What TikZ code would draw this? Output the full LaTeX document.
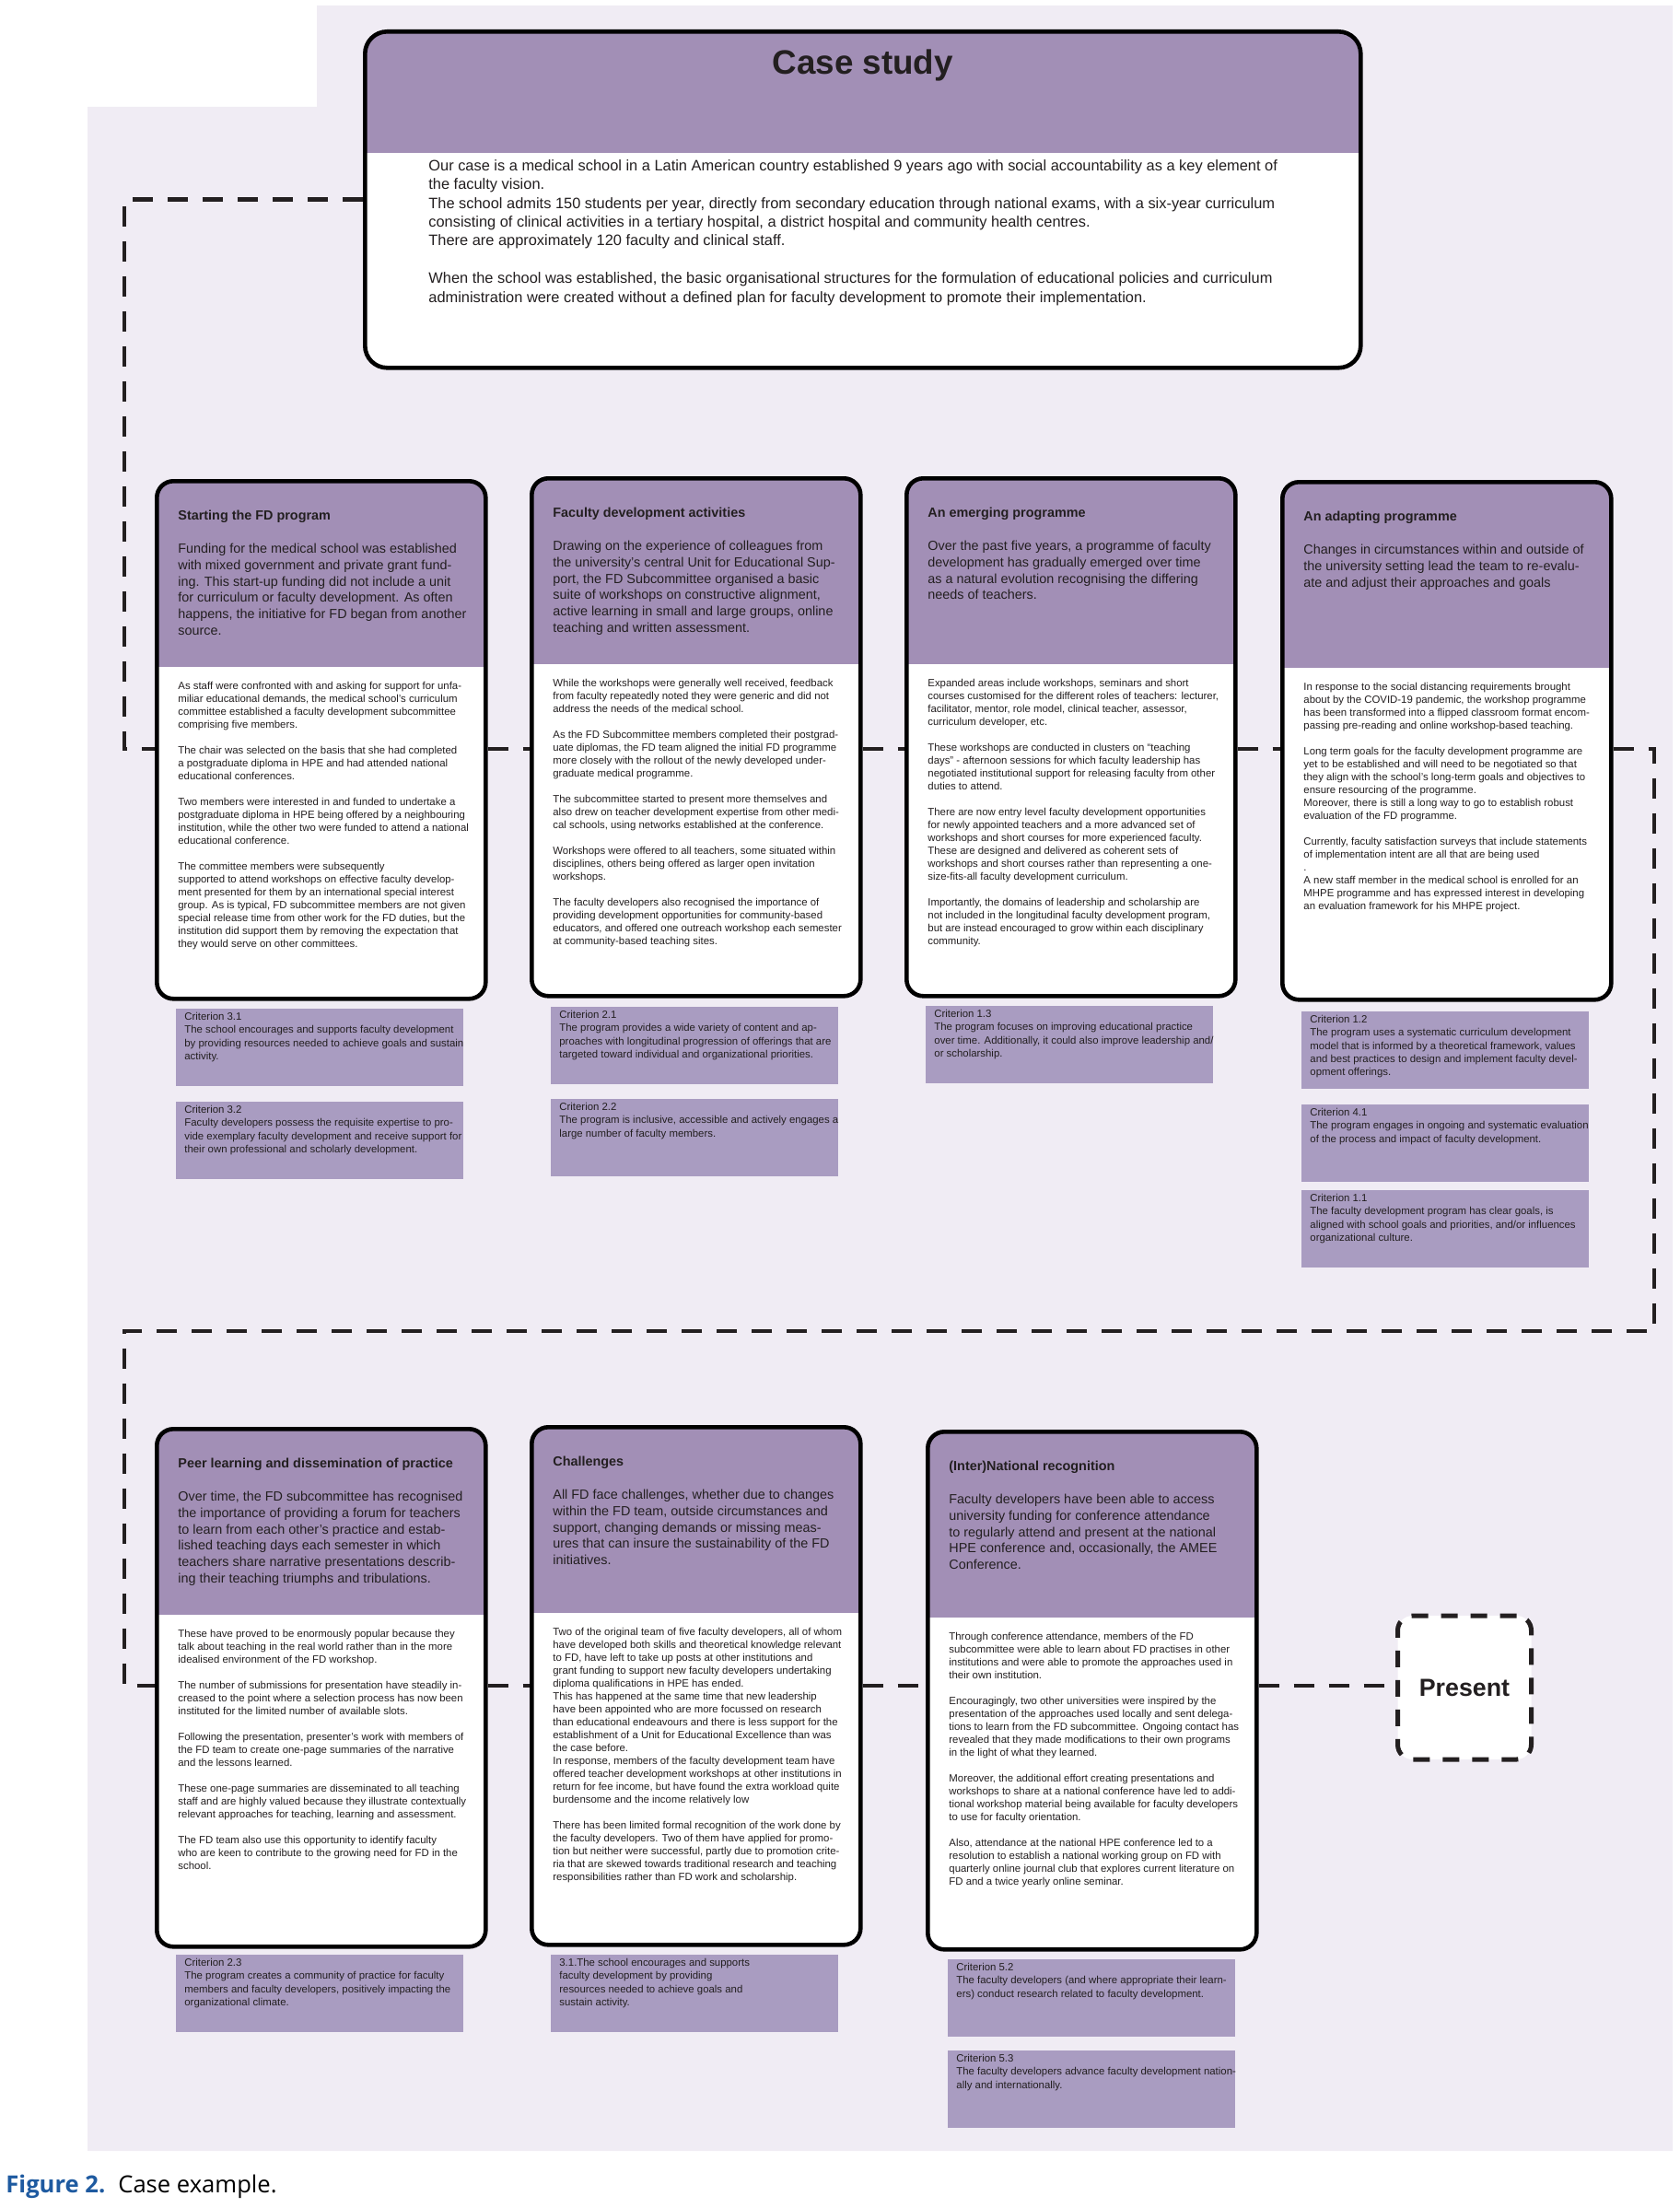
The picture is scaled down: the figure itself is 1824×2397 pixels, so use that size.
\documentclass[tikz,border=0pt]{standalone}
\usepackage{xcolor}
\usepackage{fontspec}
\setmainfont{Liberation Sans}
\newfontfamily\capfont{Open Sans}
\usepackage{tikz}
\usetikzlibrary{positioning}
\definecolor{mydark}{RGB}{35,31,32}
\definecolor{hdrlav}{RGB}{162,143,182}
\definecolor{critlav}{RGB}{169,156,193}
\definecolor{bglav}{RGB}{240,236,244}
\definecolor{capblue}{RGB}{30,90,160}
\newcommand{\bgap}{\\[7pt]}
\newcommand{\cgap}{\\[10.2pt]}
\tikzset{
  panel/.style={rectangle, draw=black, fill=white, line width=2.3pt,
    rounded corners=9pt, inner sep=0pt,
    path picture={\fill[hdrlav, sharp corners] (path picture bounding box.north west)
      rectangle ([yshift=-#1]path picture bounding box.north east);}},
  card/.style={panel=101pt, minimum width=178.5pt, minimum height=281pt},
  casetext/.style={inner sep=0pt, align=left, text=mydark,
    font=\fontsize{8.2pt}{10.2pt}\selectfont},
  cardtitle/.style={inner sep=0pt, align=left, text=mydark,
    font=\bfseries\fontsize{7.2pt}{8.6pt}\selectfont},
  cardlead/.style={inner sep=0pt, align=left, text=mydark,
    font=\fontsize{7.2pt}{8.85pt}\selectfont},
  cardbody/.style={inner sep=0pt, align=left, text=mydark,
    font=\fontsize{5.7pt}{7pt}\selectfont},
  critbox/.style={rectangle, fill=critlav, minimum width=156pt,
    minimum height=42pt, inner sep=0pt},
  crittext/.style={inner sep=0pt, align=left, text=mydark,
    font=\fontsize{5.7pt}{7.1pt}\selectfont},
  flow/.style={line width=2.4pt, color=mydark, dash pattern=on 11pt off 8pt},
  presentbox/.style={rectangle, draw=mydark, fill=white, line width=2.5pt,
    dash pattern=on 9pt off 7pt, rounded corners=8pt,
    minimum width=72.5pt, minimum height=78pt, text=mydark,
    font=\bfseries\fontsize{13.4pt}{16pt}\selectfont}
}

\begin{document}
\begin{tikzpicture}[x=0.5pt, y=-0.5pt]
  \useasboundingbox (0,0) rectangle (1824,2397);

  % Background
  \fill[bglav] (95,116) -- (344,116) -- (344,6) -- (1816,6)
    -- (1816,2335) -- (95,2335) -- cycle;

  % Case study box
  \node[panel=66pt, minimum width=540.5pt, minimum height=182.5pt,
    rounded corners=12pt, anchor=north west] (case) at (394,32) {};
  \node[inner sep=0pt, text=mydark, font=\bfseries\fontsize{18.4pt}{22pt}\selectfont,
    below=10.7pt of case.north] (casetitle) {Case study};
  \node[casetext, below right=70.5pt and 35.5pt of case.north west] (casebody) {%
    Our case is a medical school in a Latin American country established 9 years ago with social accountability as a key element of\\
    the faculty vision.\\
    The school admits 150 students per year, directly from secondary education through national exams, with a six-year curriculum\\
    consisting of clinical activities in a tertiary hospital, a district hospital and community health centres.\\
    There are approximately 120 faculty and clinical staff.\cgap
    When the school was established, the basic organisational structures for the formulation of educational policies and curriculum\\
    administration were created without a defined plan for faculty development to promote their implementation.};

  % Row 1 cards
  \node[card, anchor=north west] (start) at (168,520) {};
  \node[cardtitle, below right=17pt and 12.5pt of start.north west] {Starting the FD program};
  \node[cardlead, below right=35pt and 12.5pt of start.north west] {%
    Funding for the medical school was established\\
    with mixed government and private grant fund-\\
    ing. This start-up funding did not include a unit\\
    for curriculum or faculty development. As often\\
    happens, the initiative for FD began from another\\
    source.};
  \node[cardbody, below right=110pt and 12.5pt of start.north west] {%
    As staff were confronted with and asking for support for unfa-\\
    miliar educational demands, the medical school's curriculum\\
    committee established a faculty development subcommittee\\
    comprising five members.\bgap
    The chair was selected on the basis that she had completed\\
    a postgraduate diploma in HPE and had attended national\\
    educational conferences.\bgap
    Two members were interested in and funded to undertake a\\
    postgraduate diploma in HPE being offered by a neighbouring\\
    institution, while the other two were funded to attend a national\\
    educational conference.\bgap
    The committee members were subsequently\\
    supported to attend workshops on effective faculty develop-\\
    ment presented for them by an international special interest\\
    group. As is typical, FD subcommittee members are not given\\
    special release time from other work for the FD duties, but the\\
    institution did support them by removing the expectation that\\
    they would serve on other committees.};

  \node[card, anchor=north west] (activ) at (575,517) {};
  \node[cardtitle, below right=17pt and 12.5pt of activ.north west] {Faculty development activities};
  \node[cardlead, below right=35pt and 12.5pt of activ.north west] {%
    Drawing on the experience of colleagues from\\
    the university's central Unit for Educational Sup-\\
    port, the FD Subcommittee organised a basic\\
    suite of workshops on constructive alignment,\\
    active learning in small and large groups, online\\
    teaching and written assessment.};
  \node[cardbody, below right=110pt and 12.5pt of activ.north west] {%
    While the workshops were generally well received, feedback\\
    from faculty repeatedly noted they were generic and did not\\
    address the needs of the medical school.\bgap
    As the FD Subcommittee members completed their postgrad-\\
    uate diplomas, the FD team aligned the initial FD programme\\
    more closely with the rollout of the newly developed under-\\
    graduate medical programme.\bgap
    The subcommittee started to present more themselves and\\
    also drew on teacher development expertise from other medi-\\
    cal schools, using networks established at the conference.\bgap
    Workshops were offered to all teachers, some situated within\\
    disciplines, others being offered as larger open invitation\\
    workshops.\bgap
    The faculty developers also recognised the importance of\\
    providing development opportunities for community-based\\
    educators, and offered one outreach workshop each semester\\
    at community-based teaching sites.};

  \node[card, anchor=north west] (emerg) at (982,517) {};
  \node[cardtitle, below right=17pt and 12.5pt of emerg.north west] {An emerging programme};
  \node[cardlead, below right=35pt and 12.5pt of emerg.north west] {%
    Over the past five years, a programme of faculty\\
    development has gradually emerged over time\\
    as a natural evolution recognising the differing\\
    needs of teachers.};
  \node[cardbody, below right=110pt and 12.5pt of emerg.north west] {%
    Expanded areas include workshops, seminars and short\\
    courses customised for the different roles of teachers: lecturer,\\
    facilitator, mentor, role model, clinical teacher, assessor,\\
    curriculum developer, etc.\bgap
    These workshops are conducted in clusters on ``teaching\\
    days'' - afternoon sessions for which faculty leadership has\\
    negotiated institutional support for releasing faculty from other\\
    duties to attend.\bgap
    There are now entry level faculty development opportunities\\
    for newly appointed teachers and a more advanced set of\\
    workshops and short courses for more experienced faculty.\\
    These are designed and delivered as coherent sets of\\
    workshops and short courses rather than representing a one-\\
    size-fits-all faculty development curriculum.\bgap
    Importantly, the domains of leadership and scholarship are\\
    not included in the longitudinal faculty development program,\\
    but are instead encouraged to grow within each disciplinary\\
    community.};

  \node[card, anchor=north west] (adapt) at (1390,521) {};
  \node[cardtitle, below right=17pt and 12.5pt of adapt.north west] {An adapting programme};
  \node[cardlead, below right=35pt and 12.5pt of adapt.north west] {%
    Changes in circumstances within and outside of\\
    the university setting lead the team to re-evalu-\\
    ate and adjust their approaches and goals};
  \node[cardbody, below right=110pt and 12.5pt of adapt.north west] {%
    In response to the social distancing requirements brought\\
    about by the COVID-19 pandemic, the workshop programme\\
    has been transformed into a flipped classroom format encom-\\
    passing pre-reading and online workshop-based teaching.\bgap
    Long term goals for the faculty development programme are\\
    yet to be established and will need to be negotiated so that\\
    they align with the school's long-term goals and objectives to\\
    ensure resourcing of the programme.\\
    Moreover, there is still a long way to go to establish robust\\
    evaluation of the FD programme.\bgap
    Currently, faculty satisfaction surveys that include statements\\
    of implementation intent are all that are being used\\
    .\\
    A new staff member in the medical school is enrolled for an\\
    MHPE programme and has expressed interest in developing\\
    an evaluation framework for his MHPE project.};

  % Row 1 criteria
  \node[critbox, anchor=north west] (c31) at (191,1095) {};
  \node[crittext, below right=2pt and 4.5pt of c31.north west] {%
    Criterion 3.1\\
    The school encourages and supports faculty development\\
    by providing resources needed to achieve goals and sustain\\
    activity.};
  \node[critbox, anchor=north west] (c32) at (191,1196) {};
  \node[crittext, below right=2pt and 4.5pt of c32.north west] {%
    Criterion 3.2\\
    Faculty developers possess the requisite expertise to pro-\\
    vide exemplary faculty development and receive support for\\
    their own professional and scholarly development.};
  \node[critbox, anchor=north west] (c21) at (598,1093) {};
  \node[crittext, below right=2pt and 4.5pt of c21.north west] {%
    Criterion 2.1\\
    The program provides a wide variety of content and ap-\\
    proaches with longitudinal progression of offerings that are\\
    targeted toward individual and organizational priorities.};
  \node[critbox, anchor=north west] (c22) at (598,1193) {};
  \node[crittext, below right=2pt and 4.5pt of c22.north west] {%
    Criterion 2.2\\
    The program is inclusive, accessible and actively engages a\\
    large number of faculty members.};
  \node[critbox, anchor=north west] (c13) at (1005,1092) {};
  \node[crittext, below right=2pt and 4.5pt of c13.north west] {%
    Criterion 1.3\\
    The program focuses on improving educational practice\\
    over time. Additionally, it could also improve leadership and/\\
    or scholarship.};
  \node[critbox, anchor=north west] (c12) at (1413,1098) {};
  \node[crittext, below right=2pt and 4.5pt of c12.north west] {%
    Criterion 1.2\\
    The program uses a systematic curriculum development\\
    model that is informed by a theoretical framework, values\\
    and best practices to design and implement faculty devel-\\
    opment offerings.};
  \node[critbox, anchor=north west] (c41) at (1413,1199) {};
  \node[crittext, below right=2pt and 4.5pt of c41.north west] {%
    Criterion 4.1\\
    The program engages in ongoing and systematic evaluation\\
    of the process and impact of faculty development.};
  \node[critbox, anchor=north west] (c11) at (1413,1292) {};
  \node[crittext, below right=2pt and 4.5pt of c11.north west] {%
    Criterion 1.1\\
    The faculty development program has clear goals, is\\
    aligned with school goals and priorities, and/or influences\\
    organizational culture.};

  % Row 2 cards
  \node[card, anchor=north west] (peer) at (168,1549) {};
  \node[cardtitle, below right=17pt and 12.5pt of peer.north west] {Peer learning and dissemination of practice};
  \node[cardlead, below right=35pt and 12.5pt of peer.north west] {%
    Over time, the FD subcommittee has recognised\\
    the importance of providing a forum for teachers\\
    to learn from each other's practice and estab-\\
    lished teaching days each semester in which\\
    teachers share narrative presentations describ-\\
    ing their teaching triumphs and tribulations.};
  \node[cardbody, below right=110pt and 12.5pt of peer.north west] {%
    These have proved to be enormously popular because they\\
    talk about teaching in the real world rather than in the more\\
    idealised environment of the FD workshop.\bgap
    The number of submissions for presentation have steadily in-\\
    creased to the point where a selection process has now been\\
    instituted for the limited number of available slots.\bgap
    Following the presentation, presenter's work with members of\\
    the FD team to create one-page summaries of the narrative\\
    and the lessons learned.\bgap
    These one-page summaries are disseminated to all teaching\\
    staff and are highly valued because they illustrate contextually\\
    relevant approaches for teaching, learning and assessment.\bgap
    The FD team also use this opportunity to identify faculty\\
    who are keen to contribute to the growing need for FD in the\\
    school.};

  \node[card, anchor=north west] (chall) at (575,1547) {};
  \node[cardtitle, below right=17pt and 12.5pt of chall.north west] {Challenges};
  \node[cardlead, below right=35pt and 12.5pt of chall.north west] {%
    All FD face challenges, whether due to changes\\
    within the FD team, outside circumstances and\\
    support, changing demands or missing meas-\\
    ures that can insure the sustainability of the FD\\
    initiatives.};
  \node[cardbody, below right=110pt and 12.5pt of chall.north west] {%
    Two of the original team of five faculty developers, all of whom\\
    have developed both skills and theoretical knowledge relevant\\
    to FD, have left to take up posts at other institutions and\\
    grant funding to support new faculty developers undertaking\\
    diploma qualifications in HPE has ended.\\
    This has happened at the same time that new leadership\\
    have been appointed who are more focussed on research\\
    than educational endeavours and there is less support for the\\
    establishment of a Unit for Educational Excellence than was\\
    the case before.\\
    In response, members of the faculty development team have\\
    offered teacher development workshops at other institutions in\\
    return for fee income, but have found the extra workload quite\\
    burdensome and the income relatively low\bgap
    There has been limited formal recognition of the work done by\\
    the faculty developers. Two of them have applied for promo-\\
    tion but neither were successful, partly due to promotion crite-\\
    ria that are skewed towards traditional research and teaching\\
    responsibilities rather than FD work and scholarship.};

  \node[card, anchor=north west] (recog) at (1005,1552) {};
  \node[cardtitle, below right=17pt and 12.5pt of recog.north west] {(Inter)National recognition};
  \node[cardlead, below right=35pt and 12.5pt of recog.north west] {%
    Faculty developers have been able to access\\
    university funding for conference attendance\\
    to regularly attend and present at the national\\
    HPE conference and, occasionally, the AMEE\\
    Conference.};
  \node[cardbody, below right=110pt and 12.5pt of recog.north west] {%
    Through conference attendance, members of the FD\\
    subcommittee were able to learn about FD practises in other\\
    institutions and were able to promote the approaches used in\\
    their own institution.\bgap
    Encouragingly, two other universities were inspired by the\\
    presentation of the approaches used locally and sent delega-\\
    tions to learn from the FD subcommittee. Ongoing contact has\\
    revealed that they made modifications to their own programs\\
    in the light of what they learned.\bgap
    Moreover, the additional effort creating presentations and\\
    workshops to share at a national conference have led to addi-\\
    tional workshop material being available for faculty developers\\
    to use for faculty orientation.\bgap
    Also, attendance at the national HPE conference led to a\\
    resolution to establish a national working group on FD with\\
    quarterly online journal club that explores current literature on\\
    FD and a twice yearly online seminar.};

  % Present
  \node[presentbox] (present) at (1590,1832) {Present};

  % Row 2 criteria
  \node[critbox, anchor=north west] (c23) at (191,2122) {};
  \node[crittext, below right=2pt and 4.5pt of c23.north west] {%
    Criterion 2.3\\
    The program creates a community of practice for faculty\\
    members and faculty developers, positively impacting the\\
    organizational climate.};
  \node[critbox, anchor=north west] (c31b) at (598,2122) {};
  \node[crittext, below right=2pt and 4.5pt of c31b.north west] {%
    3.1.The school encourages and supports\\
    faculty development by providing\\
    resources needed to achieve goals and\\
    sustain activity.};
  \node[critbox, anchor=north west] (c52) at (1029,2127) {};
  \node[crittext, below right=2pt and 4.5pt of c52.north west] {%
    Criterion 5.2\\
    The faculty developers (and where appropriate their learn-\\
    ers) conduct research related to faculty development.};
  \node[critbox, anchor=north west] (c53) at (1029,2226) {};
  \node[crittext, below right=2pt and 4.5pt of c53.north west] {%
    Criterion 5.3\\
    The faculty developers advance faculty development nation-\\
    ally and internationally.};

  % Dashed timeline
  \coordinate (k1) at (135,813);
  \coordinate (k2) at (1796,1445);
  \coordinate (k3) at (135,1830);
  \draw[flow] (case.west) -| (k1) -- (k1 -| start.west);
  \draw[flow] (start.east |- k1) -- (activ.west |- k1);
  \draw[flow] (activ.east |- k1) -- (emerg.west |- k1);
  \draw[flow] (emerg.east |- k1) -- (adapt.west |- k1);
  \draw[flow] (adapt.east |- k1) -| (k2) -| (k3) -- (k3 -| peer.west);
  \draw[flow] (peer.east |- k3) -- (chall.west |- k3);
  \draw[flow] (chall.east |- k3) -- (recog.west |- k3);
  \draw[flow] (recog.east |- k3) -- (present.west |- k3);

  % Caption
  \node[anchor=west, inner sep=0pt, font=\capfont\fontsize{12.8pt}{15pt}\selectfont]
    (caption) at (6,2374) {\textcolor{capblue}{\bfseries Figure 2.}\hspace{7pt}Case example.};
\end{tikzpicture}
\end{document}
